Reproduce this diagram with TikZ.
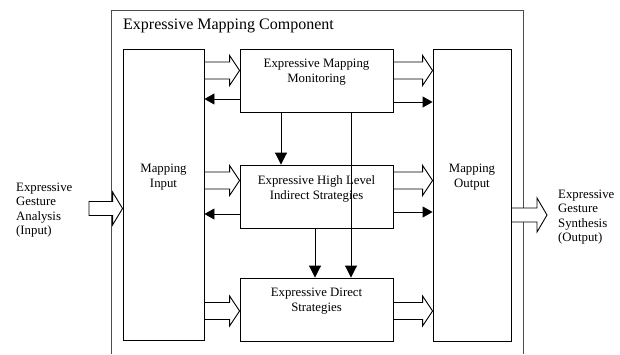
\documentclass[tikz,border=0pt]{standalone}
\usepackage{fontspec}
\setmainfont{Liberation Serif}
\usetikzlibrary{positioning,calc,arrows.meta}

% hollow block arrow: from, to, half body, half head
\newcommand{\hollowarr}[4]{%
  \draw[hollow] ($(#1)+(0,-#3)$) -- ($(#2)+(-10,-#3)$) -- ($(#2)+(-10,-#4)$) -- (#2)
    -- ($(#2)+(-10,#4)$) -- ($(#2)+(-10,#3)$) -- ($(#1)+(0,#3)$) -- cycle;}

\begin{document}
\begin{tikzpicture}[x=1pt, y=-1pt,
		box/.style={draw, line width=0.9pt, minimum width=153pt, minimum height=63pt, inner sep=0pt},
		tall/.style={draw, line width=0.9pt, minimum height=291pt, inner sep=0pt},
		txt/.style={font=\fontsize{12.8}{15}\selectfont, align=center, inner sep=0pt},
		side/.style={font=\fontsize{12.8}{14.5}\selectfont, align=left, inner sep=0pt, anchor=north west},
		hollow/.style={draw, fill=white, line width=0.9pt},
		flow/.style={line width=0.9pt, -{Triangle[length=10pt,width=11pt]}}]

	\useasboundingbox (0,0) rectangle (620,354);

	% ===== ramka komponentu =====
	\draw[line width=0.9pt, black!70] (111,354) -- (111,10) -- (523,10) -- (523,354);
	\node[font=\fontsize{16}{18}\selectfont, anchor=base west, inner sep=0pt] (title) at (123,29) {Expressive Mapping Component};

	% ===== bloki =====
	\node[tall, minimum width=81pt] (inp) at (163.5,194.5) {};
	\node[tall, minimum width=78pt, minimum height=292pt] (out) at (472,195) {};
	\node[box] (mon) at (316.5,80.5) {};
	\node[box] (high) at (316.5,196.5) {};
	\node[box] (dir) at (316.5,309.5) {};

	\node[txt, below=115.5pt of inp.north] (inpl) {Mapping\\Input};
	\node[txt, below=115.5pt of out.north] (outl) {Mapping\\Output};
	\node[txt, below=10.5pt of mon.north] (monl) {Expressive Mapping\\Monitoring};
	\node[txt, below=11pt of high.north] (highl) {Expressive High Level\\Indirect Strategies};
	\node[txt, below=10.5pt of dir.north] (dirl) {Expressive Direct\\Strategies};

	% ===== wiersze i kolumny strzałek =====
	\foreach \n/\y in {ya/70.5, yb/99, yc/102, yd/180.5, yf/214, yg/212, yh/311}
		\coordinate (\n) at (0,\y);
	\foreach \n/\x in {v1/281, v2/315, v3/351}
		\coordinate (\n) at (\x,0);

	% ===== strzałki blokowe =====
	\hollowarr{inp.east |- ya}{mon.west |- ya}{8.5}{15}
	\hollowarr{mon.east |- ya}{out.west |- ya}{8.5}{15}
	\hollowarr{inp.east |- yd}{high.west |- yd}{8.5}{15}
	\hollowarr{high.east |- yd}{out.west |- yd}{8.5}{15}
	\hollowarr{inp.east |- yh}{dir.west |- yh}{8.5}{15}
	\hollowarr{dir.east |- yh}{out.west |- yh}{8.5}{15}

	% ===== strzałki pełne =====
	\draw[flow] (mon.west |- yb) -- (inp.east |- yb);
	\draw[flow] (mon.east |- yc) -- (out.west |- yc);
	\draw[flow] (high.west |- yf) -- (inp.east |- yf);
	\draw[flow] (high.east |- yg) -- (out.west |- yg);
	\draw[flow, -{Triangle[length=12pt,width=12pt]}] (mon.south -| v1) -- (high.north -| v1);
	\draw[flow, -{Triangle[length=12pt,width=12pt]}] (high.south -| v2) -- (dir.north -| v2);
	\draw[flow, -{Triangle[length=12pt,width=12pt]}] (mon.south -| v3) -- (dir.north -| v3);

	% ===== wejście / wyjście =====
	\node[side] (ana) at (16,182.5) {Expressive\\Gesture\\Analysis\\(Input)};
	\node[side] (syn) at (558,189.5) {Expressive\\Gesture\\Synthesis\\(Output)};
	\coordinate (ain) at (89,208.5);
	\coordinate (aout) at (547,215);
	\hollowarr{ain}{inp.west |- ain}{7}{16.5}
	\hollowarr{out.east |- aout}{aout}{7}{17}
\end{tikzpicture}
\end{document}
